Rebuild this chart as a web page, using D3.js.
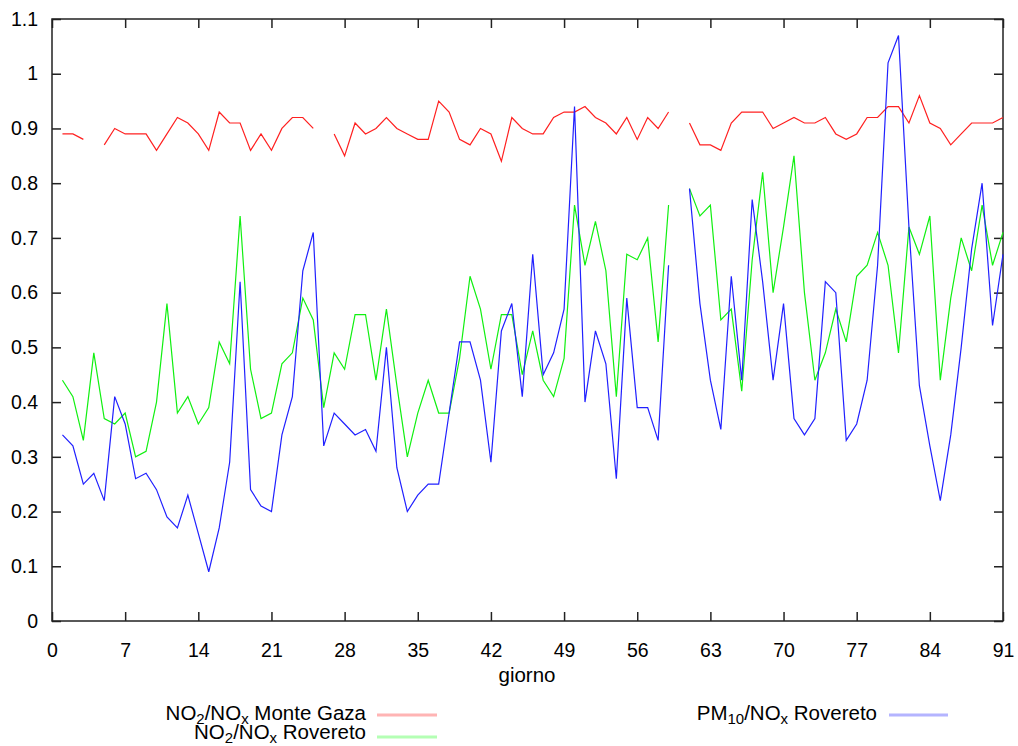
<!DOCTYPE html>
<html>
<head>
<meta charset="utf-8">
<script src="https://cdn.jsdelivr.net/npm/d3@7"></script>
<style>
  body { margin: 0; background: #fff; }
  svg text { font-family: "Liberation Sans", Arial, sans-serif; fill: #000; }
</style>
</head>
<body>
<svg id="chart" width="1018" height="746"></svg>
<script>
const days = d3.range(1, 92);
const xTicks = [0, 7, 14, 21, 28, 35, 42, 49, 56, 63, 70, 77, 84, 91];
const yTicks = [0, 0.1, 0.2, 0.3, 0.4, 0.5, 0.6, 0.7, 0.8, 0.9, 1, 1.1];

// NO2/NOx Monte Gaza (null = missing day)
const monteGaza = [
  0.89, 0.89, 0.88, null, 0.87, 0.90, 0.89, 0.89, 0.89, 0.86,
  0.89, 0.92, 0.91, 0.89, 0.86, 0.93, 0.91, 0.91, 0.86, 0.89,
  0.86, 0.90, 0.92, 0.92, 0.90, null, 0.89, 0.85, 0.91, 0.89,
  0.90, 0.92, 0.90, 0.89, 0.88, 0.88, 0.95, 0.93, 0.88, 0.87,
  0.90, 0.89, 0.84, 0.92, 0.90, 0.89, 0.89, 0.92, 0.93, 0.93,
  0.94, 0.92, 0.91, 0.89, 0.92, 0.88, 0.92, 0.90, 0.93, null,
  0.91, 0.87, 0.87, 0.86, 0.91, 0.93, 0.93, 0.93, 0.90, 0.91,
  0.92, 0.91, 0.91, 0.92, 0.89, 0.88, 0.89, 0.92, 0.92, 0.94,
  0.94, 0.91, 0.96, 0.91, 0.90, 0.87, 0.89, 0.91, 0.91, 0.91, 0.92
];

// NO2/NOx Rovereto
const no2Rovereto = [
  0.44, 0.41, 0.33, 0.49, 0.37, 0.36, 0.38, 0.30, 0.31, 0.40,
  0.58, 0.38, 0.41, 0.36, 0.39, 0.51, 0.47, 0.74, 0.46, 0.37,
  0.38, 0.47, 0.49, 0.59, 0.55, 0.39, 0.49, 0.46, 0.56, 0.56,
  0.44, 0.57, 0.43, 0.30, 0.38, 0.44, 0.38, 0.38, 0.48, 0.63,
  0.57, 0.46, 0.56, 0.56, 0.45, 0.53, 0.44, 0.41, 0.48, 0.76,
  0.65, 0.73, 0.64, 0.41, 0.67, 0.66, 0.70, 0.51, 0.76, null,
  0.79, 0.74, 0.76, 0.55, 0.57, 0.42, 0.66, 0.82, 0.60, 0.72,
  0.85, 0.60, 0.44, 0.49, 0.57, 0.51, 0.63, 0.65, 0.71, 0.65,
  0.49, 0.72, 0.67, 0.74, 0.44, 0.59, 0.70, 0.64, 0.76, 0.65, 0.71
];

// PM10/NOx Rovereto
const pm10Rovereto = [
  0.34, 0.32, 0.25, 0.27, 0.22, 0.41, 0.36, 0.26, 0.27, 0.24,
  0.19, 0.17, 0.23, 0.16, 0.09, 0.17, 0.29, 0.62, 0.24, 0.21,
  0.20, 0.34, 0.41, 0.64, 0.71, 0.32, 0.38, 0.36, 0.34, 0.35,
  0.31, 0.50, 0.28, 0.20, 0.23, 0.25, 0.25, 0.38, 0.51, 0.51,
  0.44, 0.29, 0.53, 0.58, 0.41, 0.67, 0.45, 0.49, 0.57, 0.94,
  0.40, 0.53, 0.47, 0.26, 0.59, 0.39, 0.39, 0.33, 0.65, null,
  0.79, 0.58, 0.44, 0.35, 0.63, 0.44, 0.77, 0.62, 0.44, 0.58,
  0.37, 0.34, 0.37, 0.62, 0.60, 0.33, 0.36, 0.44, 0.65, 1.02,
  1.07, 0.72, 0.43, 0.32, 0.22, 0.34, 0.50, 0.68, 0.80, 0.54, 0.67
];

const series = [
  { values: monteGaza, color: "#ff2020", key: "#ffb4b4", label: [["NO", 0], ["2", 1], ["/NO", 0], ["x", 1], [" Monte Gaza", 0]] },
  { values: no2Rovereto, color: "#10f010", key: "#b4ffb4", label: [["NO", 0], ["2", 1], ["/NO", 0], ["x", 1], [" Rovereto", 0]] },
  { values: pm10Rovereto, color: "#2020ff", key: "#b4b4ff", label: [["PM", 0], ["10", 1], ["/NO", 0], ["x", 1], [" Rovereto", 0]] }
];

const svg = d3.select("svg#chart");
const plotLeft = 52, plotRight = 1003, plotTop = 19, plotBottom = 621;

const x = d3.scaleLinear().domain([0, 91]).range([plotLeft, plotRight]);
const y = d3.scaleLinear().domain([0, 1.1]).range([plotBottom, plotTop]);

const axes = svg.append("g").attr("id", "axes");

// inward ticks on all four sides, like gnuplot
const tickLen = 9;
axes.append("g")
  .attr("transform", `translate(${plotLeft},0)`)
  .call(d3.axisLeft(y).tickValues(yTicks).tickSize(-tickLen).tickFormat(d3.format("~g")).tickPadding(14));
axes.append("g")
  .attr("transform", `translate(${plotRight},0)`)
  .call(d3.axisRight(y).tickValues(yTicks).tickSize(-tickLen).tickFormat(""));
axes.append("g")
  .attr("transform", `translate(0,${plotBottom})`)
  .call(d3.axisBottom(x).tickValues(xTicks).tickSize(-tickLen).tickPadding(22));
axes.append("g")
  .attr("transform", `translate(0,${plotTop})`)
  .call(d3.axisTop(x).tickValues(xTicks).tickSize(-tickLen).tickFormat(""));

axes.selectAll(".domain").remove();
axes.selectAll(".tick line").attr("stroke", "#222").attr("stroke-width", 1.5);
axes.selectAll(".tick text").attr("font-size", 19.5).attr("fill", "#000");

axes.append("rect")
  .attr("x", plotLeft).attr("y", plotTop)
  .attr("width", plotRight - plotLeft).attr("height", plotBottom - plotTop)
  .attr("fill", "none").attr("stroke", "#222").attr("stroke-width", 1.5);

// data lines
const plot = svg.append("g").attr("id", "lines");
series.forEach(s => {
  const line = d3.line()
    .defined((d, i) => s.values[i] !== null)
    .x((d, i) => x(days[i]))
    .y((d, i) => y(s.values[i]));
  plot.append("path")
    .datum(days)
    .attr("fill", "none")
    .attr("stroke", s.color)
    .attr("stroke-width", 1.2)
    .attr("d", line);
});

// x axis title
svg.append("text")
  .attr("x", 527)
  .attr("y", 682)
  .attr("text-anchor", "middle")
  .attr("font-size", 20.5)
  .text("giorno");

// legend
const legendPos = [
  { tx: 366, ty: 720, lx1: 377, lx2: 437, ly: 715 },
  { tx: 366, ty: 739, lx1: 377, lx2: 437, ly: 737 },
  { tx: 877, ty: 720, lx1: 889, lx2: 948, ly: 715 }
];
const legend = svg.append("g").attr("id", "legend");
series.forEach((s, i) => {
  const p = legendPos[i];
  const t = legend.append("text")
    .attr("x", p.tx).attr("y", p.ty)
    .attr("text-anchor", "end")
    .attr("font-size", 20.5);
  let shift = 0;
  s.label.forEach(([str, sub]) => {
    const target = sub ? 4 : 0;
    t.append("tspan")
      .attr("dy", target - shift)
      .attr("font-size", sub ? 15 : 20.5)
      .text(str);
    shift = target;
  });
  legend.append("line")
    .attr("x1", p.lx1).attr("x2", p.lx2)
    .attr("y1", p.ly).attr("y2", p.ly)
    .attr("stroke", s.key)
    .attr("stroke-width", 3);
});
</script>
</body>
</html>
